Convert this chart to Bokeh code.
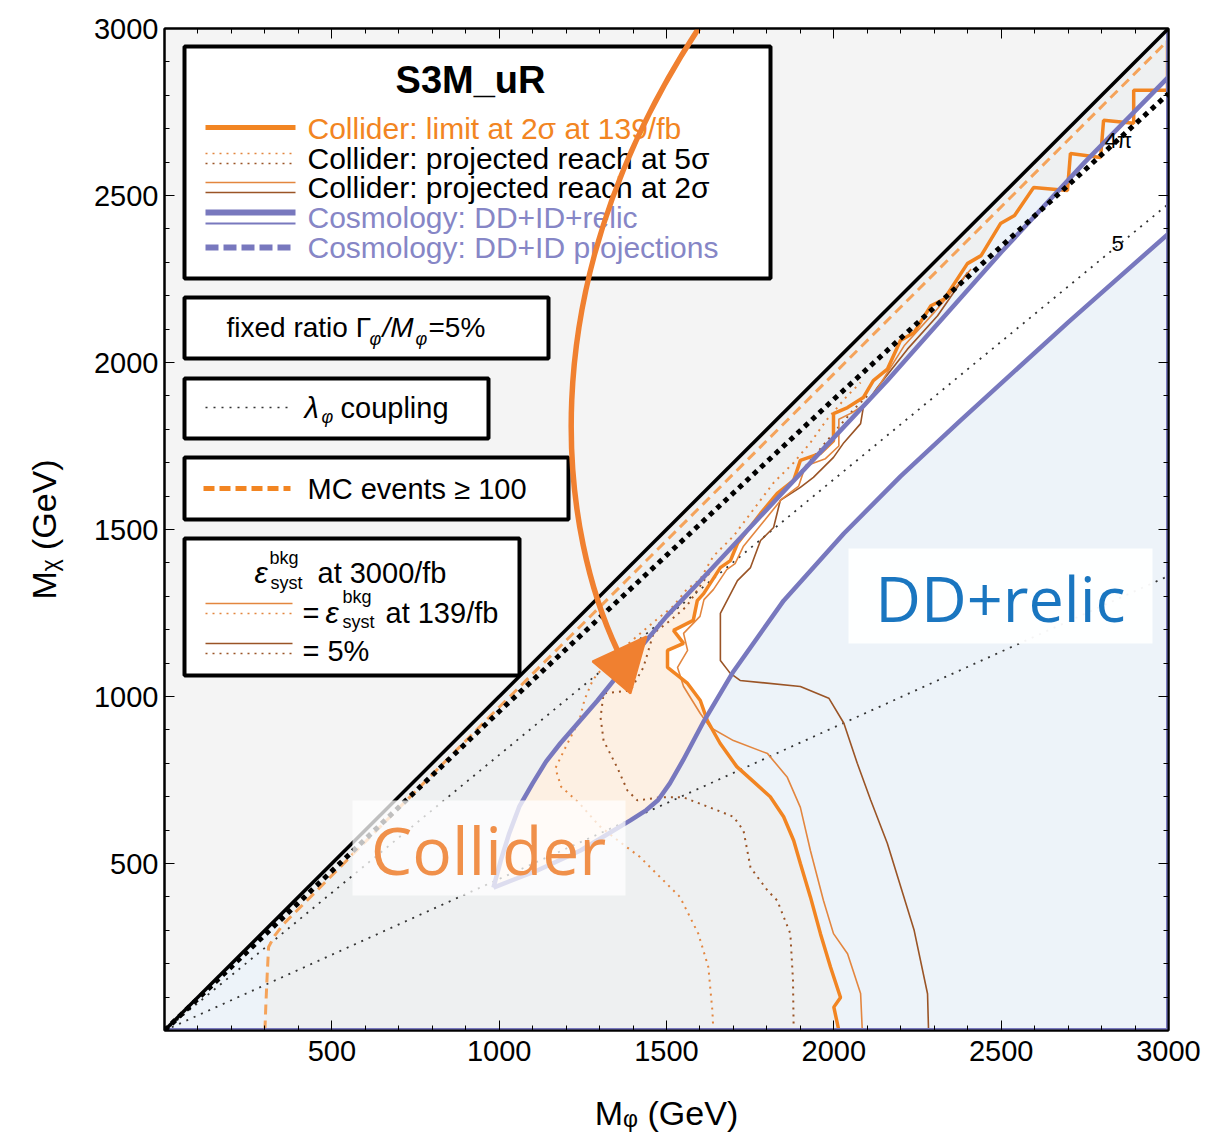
from bokeh.plotting import figure
from bokeh.models import Range1d, LinearAxis, FixedTicker
from bokeh.core.properties import value
from bokeh.embed import file_html
from bokeh.resources import INLINE

# ---------------- data (GeV) ----------------
major_ticks = [500, 1000, 1500, 2000, 2500, 3000]
minor_ticks = list(range(100, 3000, 100))
x_label = "Mᵩ (GeV)"
y_label = "Mᵪ (GeV)"
title_text = "S3M_uR"

diag_x = [0, 3000]
diag_y = [0, 3000]
# lambda_phi coupling contours
coup4pi_x = [0, 1000, 2000, 3000]
coup4pi_y = [0, 955, 1890, 2805]
coup5_x = [0, 3000]
coup5_y = [0, 2475]
coupb_x = [0, 3000]
coupb_y = [0, 1361]
# MC events >= 100
mc_x = [300, 303, 307, 311, 330, 355, 1000, 2000, 3000]
mc_y = [0, 80, 170, 250, 285, 318, 968, 1966, 2966]
# Cosmology DD+ID+relic contour (two branches from the vertex)
relic_up_x = [983, 1005, 1030, 1060, 1100, 1140, 1183, 1294, 1400, 1500, 1600, 1800, 2000, 2160, 2500, 2750, 3000]
relic_up_y = [428, 510, 590, 670, 740, 805, 860, 988, 1120, 1240, 1345, 1560, 1775, 1946, 2330, 2600, 2855]
relic_lo_x = [983, 1114, 1243, 1392, 1440, 1475, 1510, 1550, 1611, 1700, 1850, 2030, 2200, 2378, 2700, 3000]
relic_lo_y = [428, 479, 539, 629, 660, 690, 740, 810, 925, 1075, 1287, 1488, 1660, 1826, 2120, 2386]
# Collider limit at 2 sigma, 139/fb
lim_x = [2015, 2000, 2020, 1990, 1960, 1930, 1900, 1880, 1850, 1810, 1760, 1710, 1660, 1622, 1601, 1563,
         1503, 1503, 1551, 1521, 1580, 1592, 1611, 1661, 1691, 1712, 1781, 1831, 1880, 1900, 1960, 1999,
         1999, 2041, 2088, 2118, 2160, 2199, 2240, 2290, 2330, 2399, 2440, 2498, 2540, 2597, 2698, 2707,
         2797, 2806, 2896, 2896, 2997, 2997]
lim_y = [0, 70, 99, 190, 290, 400, 500, 569, 640, 700, 745, 790, 860, 928, 988, 1039,
         1087, 1138, 1159, 1198, 1228, 1287, 1308, 1386, 1407, 1458, 1548, 1608, 1647, 1707, 1728, 1766,
         1847, 1865, 1895, 1946, 1980, 2066, 2090, 2170, 2190, 2296, 2320, 2416, 2440, 2524, 2515, 2626,
         2614, 2725, 2716, 2815, 2815, 2964]
# projected reach at 2 sigma (eps = 139/fb value)
r2a_x = [2085, 2080, 2041, 1999, 1969, 1930, 1900, 1861, 1802, 1700, 1631, 1601, 1551, 1533, 1563, 1551,
         1600, 1612, 1640, 1680, 1705, 1730, 1795, 1845, 1895, 1915, 1975, 2015, 2015, 2055, 2100, 2135,
         2210, 2300, 2410]
r2a_y = [0, 111, 230, 290, 389, 539, 668, 758, 829, 868, 907, 949, 1030, 1087, 1138, 1189,
         1240, 1290, 1320, 1380, 1398, 1450, 1530, 1592, 1630, 1690, 1712, 1750, 1830, 1850, 1880, 1930,
         2050, 2150, 2280]
# projected reach at 2 sigma (eps = 5%)
r2b_x = [2283, 2280, 2240, 2160, 2110, 2070, 2030, 1985, 1900, 1720, 1690, 1661, 1661, 1712, 1751, 1781,
         1820, 1840, 1900, 1939, 1999, 2030, 2080, 2088, 2130, 2220, 2310, 2400]
r2b_y = [0, 110, 300, 560, 690, 800, 920, 995, 1030, 1048, 1070, 1108, 1249, 1347, 1386, 1467,
         1506, 1587, 1626, 1656, 1716, 1760, 1817, 1865, 1925, 2040, 2140, 2270]
# projected reach at 5 sigma (eps = 139/fb value)
r5a_x = [1640, 1637, 1625, 1595, 1540, 1480, 1420, 1360, 1300, 1240, 1185, 1168, 1195, 1240, 1255, 1280,
         1330, 1400, 1470, 1520, 1560, 1600, 1640, 1700, 1760, 1820, 1880, 1930, 1980, 2040, 2080]
r5a_y = [0, 60, 190, 290, 400, 460, 520, 565, 612, 680, 730, 785, 841, 930, 990, 1050,
         1110, 1170, 1230, 1270, 1320, 1350, 1420, 1480, 1560, 1640, 1700, 1760, 1830, 1900, 1940]
# projected reach at 5 sigma (eps = 5%)
r5b_x = [1880, 1878, 1870, 1831, 1802, 1751, 1730, 1700, 1652, 1551, 1482, 1413, 1383, 1353, 1312, 1303,
         1312, 1392, 1431, 1461, 1512, 1560, 1600, 1650, 1720, 1780, 1830, 1890, 1950, 2000, 2060, 2100]
r5b_y = [0, 150, 290, 389, 419, 488, 599, 640, 659, 698, 698, 689, 719, 787, 868, 937,
         1009, 1018, 1087, 1189, 1228, 1270, 1330, 1400, 1470, 1540, 1600, 1660, 1730, 1790, 1860, 1900]

legend_entries = ["Collider: limit at 2σ at 139/fb", "Collider: projected reach at 5σ",
                  "Collider: projected reach at 2σ", "Cosmology: DD+ID+relic",
                  "Cosmology: DD+ID projections"]

# ---------------- styling / layout ----------------
ORANGE = "#f28522"
ORANGE_T = "#e3863f"
BROWN = "#9a5426"
PURPLE = "#7878be"
PURPLE_TXT = "#8686c6"
FONT = value("Liberation Sans")

PX0, PY0 = 164, 1030          # page pixel of the data origin
SX, SY = 1004 / 3000, 1002 / 3000


def X(px):
    return (px - PX0) / SX


def Y(py):
    return (PY0 - py) / SY


p = figure(width=1221, height=1134, x_range=Range1d(0, 3000), y_range=Range1d(0, 3000),
           output_backend="svg", toolbar_location=None,
           min_border_left=164, min_border_right=53, min_border_top=28, min_border_bottom=104)
p.grid.visible = False
p.background_fill_color = "#f4f4f4"
p.border_fill_color = "white"
p.outline_line_color = "black"
p.outline_line_width = 2

for ax in (p.xaxis[0], p.yaxis[0]):
    ax.ticker = FixedTicker(ticks=major_ticks, minor_ticks=minor_ticks)
    ax.major_tick_in = 10
    ax.major_tick_out = 0
    ax.minor_tick_in = 5
    ax.minor_tick_out = 0
    ax.major_tick_line_color = "black"
    ax.minor_tick_line_color = "black"
    ax.axis_line_color = "black"
    ax.axis_line_width = 2
    ax.major_label_text_font = "Liberation Sans"
    ax.major_label_text_font_size = "29px"
    ax.major_label_text_color = "black"
    ax.axis_label_text_font = "Liberation Sans"
    ax.axis_label_text_font_size = "34px"
    ax.axis_label_text_font_style = "normal"
    ax.axis_label_text_color = "black"
p.xaxis.axis_label = x_label
p.yaxis.axis_label = y_label
p.xaxis.major_label_standoff = 10
p.yaxis.major_label_standoff = 6
p.xaxis.axis_label_standoff = 30
p.yaxis.axis_label_standoff = 28

for side in ("above", "right"):
    ax = LinearAxis(ticker=FixedTicker(ticks=major_ticks, minor_ticks=minor_ticks),
                    major_tick_in=10, major_tick_out=0, minor_tick_in=5, minor_tick_out=0,
                    axis_line_width=2, major_label_overrides={t: "" for t in major_ticks},
                    major_label_text_font_size="10px", major_label_standoff=0)
    p.add_layout(ax, side)

# ---------------- filled regions ----------------
p.patch([0, 3000, 3000], [0, 0, 3000], fill_color="#edf3f9", line_color=None)

mc_low = list(zip(mc_x[:6], mc_y[:6]))[::-1]
gray_pts = [(diag_x[0] + 355, diag_y[0] + 355)] + mc_low + list(zip(lim_x, lim_y)) + [(diag_x[1], diag_y[1])]
p.patch([a for a, b in gray_pts], [b for a, b in gray_pts], fill_color="#eef0f1", line_color=None)

v_x = relic_up_x + relic_lo_x[::-1]
v_y = relic_up_y + relic_lo_y[::-1]
p.patch(v_x, v_y, fill_color="white", line_color=None)

up_part = [(a, b) for a, b in zip(relic_up_x, relic_up_y) if a <= 1800]
lim_part = [(a, b) for a, b in zip(lim_x, lim_y) if 920 <= b <= 1620 and a < 1900][::-1]
lo_part = [(a, b) for a, b in zip(relic_lo_x, relic_lo_y) if a <= 1611][::-1]
org = up_part + lim_part + lo_part
p.patch([a for a, b in org], [b for a, b in org], fill_color="#fdf0e3", line_color=None)

# ---------------- lines ----------------
p.line(coup5_x, coup5_y, line_color="#333333", line_width=1.8, line_dash="2 6")
p.line(coupb_x, coupb_y, line_color="#333333", line_width=1.8, line_dash="2 6")
p.line(mc_x, mc_y, line_color="#f5a35a", line_width=3, line_dash="10 6")

p.line(r5a_x, r5a_y, line_color=ORANGE_T, line_width=2, line_dash="2 5")
p.line(r5b_x, r5b_y, line_color=BROWN, line_width=2, line_dash="2 5")
p.line(r2b_x, r2b_y, line_color=BROWN, line_width=1.6)
p.line(r2a_x, r2a_y, line_color=ORANGE_T, line_width=1.6)
p.line(lim_x, lim_y, line_color=ORANGE, line_width=3.5)

p.line(relic_up_x, relic_up_y, line_color=PURPLE, line_width=4.5)
p.line(relic_lo_x, relic_lo_y, line_color=PURPLE, line_width=4.5)
p.line([0, 3000, 3000], [0, 0, 3000], line_color=PURPLE, line_width=5)

p.line(diag_x, diag_y, line_color="black", line_width=3.5)
p.line(coup4pi_x, coup4pi_y, line_color="black", line_width=5, line_dash="5 5")

p.text(x=[X(1118), X(1117)], y=[Y(140), Y(243)], text=["4π", "5"], text_font=FONT,
       text_font_size="22px", text_align="center", text_baseline="middle", text_color="black")

# ---------------- legend boxes ----------------
boxes_l = [X(184)] * 5
boxes_r = [X(770), X(548), X(488), X(568), X(519)]
boxes_t = [Y(46), Y(297), Y(378), Y(457), Y(538)]
boxes_b = [Y(278), Y(358), Y(438), Y(519), Y(675)]
p.quad(left=boxes_l, right=boxes_r, top=boxes_t, bottom=boxes_b, fill_color="white",
       line_color="black", line_width=4)

p.text(x=[X(470)], y=[Y(79)], text=[title_text], text_font=FONT, text_font_size="38px",
       text_font_style="bold", text_align="center", text_baseline="middle", text_color="black")
ent_y = [Y(128), Y(158), Y(187), Y(217), Y(247)]
ent_c = [ORANGE, "black", "black", PURPLE_TXT, PURPLE_TXT]
p.text(x=[X(307)] * 5, y=ent_y, text=legend_entries, text_color=ent_c, text_font=FONT,
       text_font_size="30px", text_align="left", text_baseline="middle")
lx = [X(205), X(295)]
p.line(lx, [Y(127)] * 2, line_color=ORANGE, line_width=5)
p.line(lx, [Y(153)] * 2, line_color=ORANGE_T, line_width=1.5, line_dash="2 5")
p.line(lx, [Y(163)] * 2, line_color=BROWN, line_width=1.5, line_dash="2 5")
p.line(lx, [Y(182)] * 2, line_color=ORANGE_T, line_width=1.5)
p.line(lx, [Y(192)] * 2, line_color=BROWN, line_width=1.5)
p.line(lx, [Y(212)] * 2, line_color=PURPLE, line_width=6)
p.line(lx, [Y(223)] * 2, line_color=PURPLE, line_width=2)
p.line(lx, [Y(247)] * 2, line_color=PURPLE, line_width=6, line_dash="13 5")

# box 2
p.text(x=[X(226), X(428)], y=[Y(327)] * 2, text=["fixed ratio Γ", "=5%"], text_font=FONT,
       text_font_size="28px", text_baseline="middle", text_color="black")
p.text(x=[X(382)], y=[Y(327)], text=["/M"], text_font=FONT, text_font_size="28px",
       text_font_style="italic", text_baseline="middle", text_color="black")
p.text(x=[X(369), X(415)], y=[Y(338)] * 2, text=["φ", "φ"], text_font=FONT, text_font_size="18px",
       text_font_style="italic", text_baseline="middle", text_color="black")
# box 3
lx3 = [X(205), X(292)]
p.line(lx3, [Y(407)] * 2, line_color="#333333", line_width=1.5, line_dash="2 6")
p.text(x=[X(304)], y=[Y(407)], text=["λ"], text_font=FONT, text_font_size="29px",
       text_font_style="italic", text_baseline="middle", text_color="black")
p.text(x=[X(321)], y=[Y(416)], text=["φ"], text_font=FONT, text_font_size="18px",
       text_font_style="italic", text_baseline="middle", text_color="black")
p.text(x=[X(340)], y=[Y(407)], text=["coupling"], text_font=FONT, text_font_size="29px",
       text_baseline="middle", text_color="black")
# box 4
p.line([X(203), X(290)], [Y(488)] * 2, line_color=ORANGE, line_width=5, line_dash="11 5")
p.text(x=[X(307)], y=[Y(488)], text=["MC events ≥ 100"], text_font=FONT, text_font_size="29px",
       text_baseline="middle", text_color="black")
# box 5
p.text(x=[X(254), X(325)], y=[Y(572), Y(612)], text=["ε", "ε"], text_font=FONT,
       text_font_size="30px", text_font_style="italic", text_baseline="middle", text_color="black")
p.text(x=[X(269), X(342)], y=[Y(557), Y(596)], text=["bkg", "bkg"], text_font=FONT,
       text_font_size="18px", text_baseline="middle", text_color="black")
p.text(x=[X(270), X(342)], y=[Y(582), Y(621)], text=["syst", "syst"], text_font=FONT,
       text_font_size="18px", text_baseline="middle", text_color="black")
p.text(x=[X(317), X(302), X(385), X(302)], y=[Y(572), Y(612), Y(612), Y(650)],
       text=["at 3000/fb", "=", "at 139/fb", "= 5%"], text_font=FONT, text_font_size="29px",
       text_baseline="middle", text_color="black")
p.line(lx3, [Y(603)] * 2, line_color=ORANGE_T, line_width=1.5)
p.line(lx3, [Y(613)] * 2, line_color=ORANGE_T, line_width=1.5, line_dash="2 5")
p.line(lx3, [Y(643)] * 2, line_color=BROWN, line_width=1.5)
p.line(lx3, [Y(653)] * 2, line_color=BROWN, line_width=1.5, line_dash="2 5")

# ---------------- overlay annotations ----------------
p.quad(left=[X(352)], right=[X(625)], top=[Y(800)], bottom=[Y(895)], fill_color="white",
       fill_alpha=0.75, line_color=None)
p.text(x=[X(488)], y=[Y(848)], text=["Collider"], text_font=value("Open Sans"),
       text_font_size="66px", text_align="center", text_baseline="middle", text_color="#f0904a")
p.quad(left=[X(848)], right=[X(1152)], top=[Y(548)], bottom=[Y(643)], fill_color="white",
       fill_alpha=0.95, line_color=None)
p.text(x=[X(1000)], y=[Y(597)], text=["DD+relic"], text_font=value("Open Sans"),
       text_font_size="63px", text_align="center", text_baseline="middle", text_color="#1a76c0")

p.bezier(x0=[X(698)], y0=[Y(28)], x1=[X(617)], y1=[Y(650)], cx0=[X(520)], cy0=[Y(300)],
         cx1=[X(565)], cy1=[Y(540)], line_color="#f08030", line_width=5.5)
p.patch([X(592), X(646), X(630)], [Y(661), Y(636), Y(693)], fill_color="#f08030",
        line_color="#f08030", line_width=2)

open("out.html", "w").write(file_html(p, INLINE))
